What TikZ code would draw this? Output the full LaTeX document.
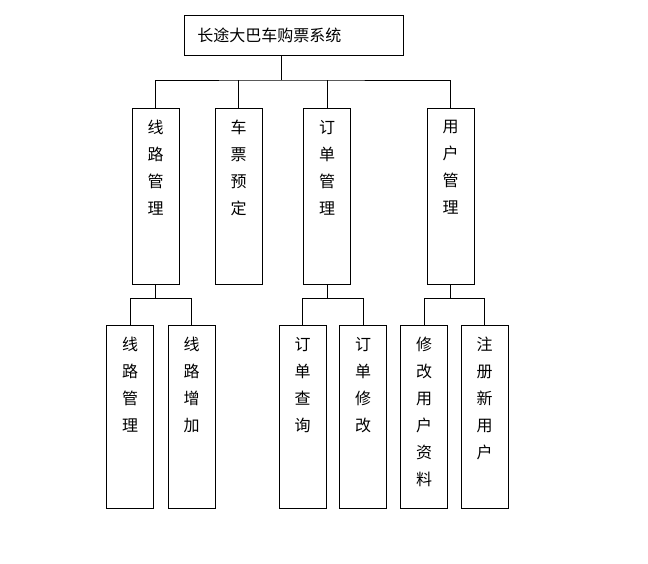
\documentclass[tikz,border=0pt]{standalone}
\usepackage{fontspec}
\newfontfamily\cjk{Noto Sans CJK SC}
\usetikzlibrary{positioning}
\begin{document}
\begin{tikzpicture}[x=1pt,y=1pt,
    txt/.style={font=\cjk\fontsize{16}{27}\selectfont, align=center},
    topbox/.style={rectangle, draw, minimum width=219pt, minimum height=40pt},
    midbox/.style={rectangle, draw, minimum width=47pt, minimum height=176pt},
    lowbox/.style={rectangle, draw, minimum width=47pt, minimum height=183pt},
    word/.style={label={[txt, anchor=north, yshift=-9pt]north:#1}},
    link/.style={thin}
]
\useasboundingbox (0,0) rectangle (648,-564);

% Title
\node[topbox, label={[txt, anchor=west, xshift=10pt]west:长途大巴车购票系统}] (sys) at (293.5,-35) {};

% Second level
\node[midbox, word={线\\路\\管\\理}] (line) at (155.5,-196) {};
\node[midbox, word={车\\票\\预\\定}] (ticket) at (238.5,-196) {};
\node[midbox, word={订\\单\\管\\理}] (order) at (327,-196) {};
\node[midbox, word={用\\户\\管\\理}] (user) at (450.5,-196) {};

% Third level
\node[lowbox, word={线\\路\\管\\理}] (line1) at (130,-416.5) {};
\node[lowbox, word={线\\路\\增\\加}] (line2) at (191.5,-416.5) {};
\node[lowbox, word={订\\单\\查\\询}] (order1) at (302.5,-416.5) {};
\node[lowbox, word={订\\单\\修\\改}] (order2) at (363,-416.5) {};
\node[lowbox, word={修\\改\\用\\户\\资\\料}] (user1) at (424,-416.5) {};
\node[lowbox, word={注\\册\\新\\用\\户}] (user2) at (484.5,-416.5) {};

% Connections
\coordinate (bus) at (281,-80);
\draw[link] (sys.south -| bus) -- (bus);
\draw[link] (line.north) |- (bus) -| (user.north);
\draw[link] (ticket.north) -- (ticket.north |- bus);
\draw[link] (order.north) -- (order.north |- bus);
\foreach \p/\a/\b in {line/line1/line2, order/order1/order2, user/user1/user2} {
    \draw[link] (\p.south) -- ++(0,-14) coordinate (\p-j);
    \draw[link] (\a.north) |- (\p-j) -| (\b.north);
}
\end{tikzpicture}
\end{document}
